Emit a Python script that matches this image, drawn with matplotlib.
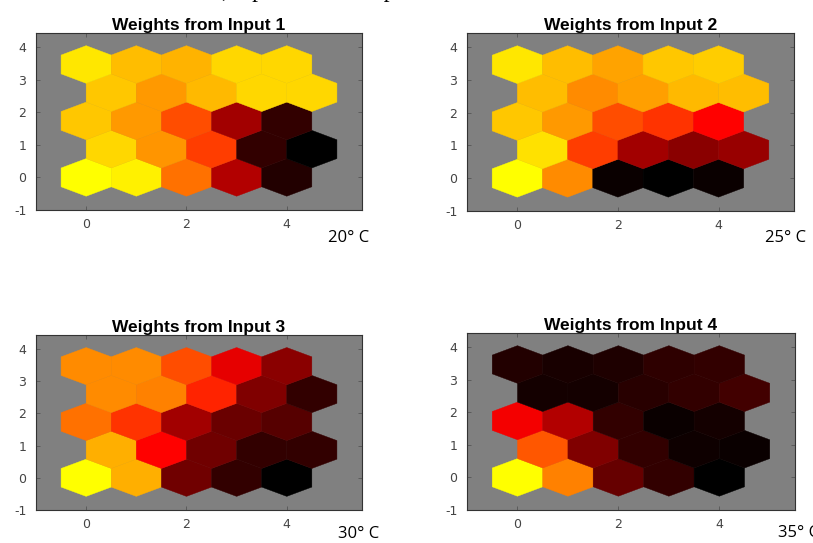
import numpy as np
import matplotlib
matplotlib.use('Agg')
import matplotlib.pyplot as plt
from matplotlib.patches import RegularPolygon
from matplotlib.colors import LinearSegmentedColormap

plt.rcParams['axes.unicode_minus'] = False

# SOM weight planes, 5x5 hex grid, rows listed bottom (row 0) to top (row 4)
weights_in1 = [
    [1.00, 0.97, 0.72, 0.35, 0.07],
    [0.92, 0.79, 0.62, 0.10, 0.00],
    [0.89, 0.80, 0.65, 0.32, 0.10],
    [0.89, 0.80, 0.86, 0.92, 0.92],
    [0.95, 0.87, 0.85, 0.92, 0.92],
]
weights_in2 = [
    [1.00, 0.77, 0.02, 0.00, 0.02],
    [0.94, 0.62, 0.32, 0.27, 0.30],
    [0.89, 0.80, 0.65, 0.60, 0.50],
    [0.87, 0.77, 0.81, 0.86, 0.87],
    [0.95, 0.87, 0.82, 0.89, 0.90],
]
weights_in3 = [
    [1.00, 0.84, 0.22, 0.10, 0.00],
    [0.84, 0.50, 0.22, 0.10, 0.10],
    [0.72, 0.60, 0.32, 0.21, 0.17],
    [0.77, 0.75, 0.57, 0.25, 0.10],
    [0.77, 0.77, 0.65, 0.45, 0.27],
]
weights_in4 = [
    [1.00, 0.75, 0.20, 0.10, 0.00],
    [0.67, 0.25, 0.10, 0.03, 0.02],
    [0.48, 0.35, 0.10, 0.02, 0.04],
    [0.04, 0.04, 0.08, 0.10, 0.13],
    [0.07, 0.05, 0.06, 0.09, 0.10],
]
titles = ['Weights from Input 1', 'Weights from Input 2',
          'Weights from Input 3', 'Weights from Input 4']
temps = ['20° C', '25° C', '30° C', '35° C']
planes = [weights_in1, weights_in2, weights_in3, weights_in4]

cmap = LinearSegmentedColormap.from_list('hot_trunc', ['#000000', '#ff0000', '#ffff00'])

fig = plt.figure(figsize=(8.13, 5.43), dpi=100)
W, H = 813, 543

# axes boxes in pixels: left, top, right, bottom
boxes = [(36, 33, 362, 210), (467, 33, 794, 211),
         (36, 335, 362, 510), (467, 333, 795, 510)]
temp_pos = [(328, 238), (765, 238), (338, 534), (778, 533)]

for k, (vals, box) in enumerate(zip(planes, boxes)):
    l, t, r, b = box
    ax = fig.add_axes([l / W, 1 - b / H, (r - l) / W, (b - t) / H])
    ax.set_facecolor('#808080')
    vals = np.array(vals)
    for row in range(vals.shape[0]):
        for col in range(vals.shape[1]):
            x = col + 0.5 * (row % 2)
            y = row * np.sqrt(0.75)
            c = cmap(vals[row, col])
            ax.add_patch(RegularPolygon((x, y), numVertices=6, radius=1 / np.sqrt(3),
                                        orientation=0, facecolor=c, edgecolor=c, linewidth=0.3))
    ax.set_xlim(-1, 5.5)
    ax.set_ylim(-1, 4.43)
    ax.set_xticks([0, 2, 4])
    ax.set_yticks([-1, 0, 1, 2, 3, 4])
    ax.tick_params(direction='in', length=3, width=0.6, colors='#555555',
                   labelcolor='#444444', labelsize=9, top=True, right=True)
    ax.tick_params(axis='x', pad=6)
    ax.tick_params(axis='y', pad=7)
    for s in ax.spines.values():
        s.set_color('#333333')
        s.set_linewidth(0.8)
    ax.set_title(titles[k], fontsize=12.5, fontweight='bold', family='Liberation Sans', pad=2)
    tx, ty = temp_pos[k]
    fig.text(tx / W, 1 - ty / H, temps[k], fontsize=12, family='Open Sans', va='center', ha='left')

# caption line of the page above, almost fully cut off at the top edge
fig.text(222 / W, 1 + 3.5 / H, ', input of the temperature', fontsize=17,
         family='Liberation Serif', va='baseline', ha='left')

fig.savefig('out.png', dpi=100)
